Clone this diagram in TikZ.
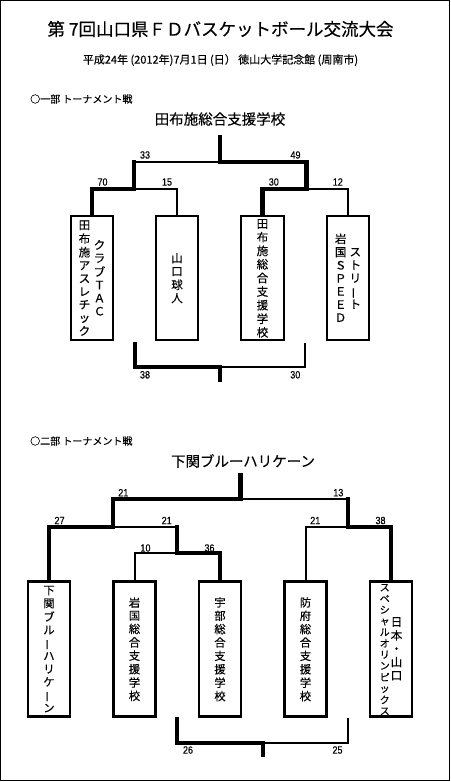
\documentclass[tikz,border=0pt]{standalone}
\usepackage{fontspec}
\usepackage{graphicx}
\newfontfamily\jp[FakeBold=0.3]{Noto Sans CJK JP}
\newfontfamily\num[FakeStretch=0.86,FakeBold=0.4]{Liberation Sans}
\newcommand\vc[1]{\raisebox{-1.7pt}[\height][\depth]{\begin{tabular}{@{}c@{}}#1\end{tabular}}}
\newcommand\vb{\makebox[1em]{\smash{\rotatebox[origin=c]{90}{ー}}}}
\tikzset{
  thk/.style={line width=4.3pt, line cap=rect},
  thn/.style={line width=2pt, line cap=rect},
  teamA/.style={draw, line width=2.3pt, minimum width=42.5pt, minimum height=124.6pt, inner sep=0pt, font=\jp\fontsize{11.5}{13.1}\selectfont},
  teamB/.style={draw, line width=2.3pt, minimum width=42pt, minimum height=135pt, inner sep=0pt, font=\jp\fontsize{11.3}{13}\selectfont},
  score/.style={font=\num\fontsize{10.5}{12}\selectfont, inner sep=0pt},
  lbl/.style={font=\jp\fontsize{10}{12}\selectfont, inner sep=0pt},
  champ/.style={font=\jp\fontsize{14.5}{16}\selectfont, inner sep=0pt},
}
\begin{document}
\begin{tikzpicture}[x=1pt,y=-1pt]
\useasboundingbox (0,0) rectangle (450,782);
\draw[line width=1.4pt] (0.7,0.7) rectangle (449.3,780.3);

% headings
\node[font=\jp\fontsize{17.5}{20}\selectfont, inner sep=0pt] (title) at (220.5,29) {第 7回山口県ＦＤバスケットボール交流大会};
\node[font=\jp\fontsize{11}{13}\selectfont, inner sep=0pt] (date) at (220.5,60) {平成24年 (2012年)7月1日 (日） 徳山大学記念館 (周南市)};
\node[lbl, anchor=west] (sec1) at (30,99) {○一部 トーナメント戦};
\node[champ] (champ1) at (220,119) {田布施総合支援学校};

% ---- tournament 1 ----
\node[teamA] (b1) at (92,278) {\vc{田\\布\\施\\ア\\ス\\レ\\チ\\ッ\\ク}\hspace{3.5pt}\vc{ク\\ラ\\ブ\\Ｔ\\Ａ\\Ｃ}};
\node[teamA] (b2) at (177,278) {\vc{山\\口\\球\\人}};
\node[teamA] (b3) at (262.5,278) {\vc{田\\布\\施\\総\\合\\支\\援\\学\\校}};
\node[teamA] (b4) at (348,278) {\vc{岩\\国\\Ｓ\\Ｐ\\Ｅ\\Ｅ\\Ｄ}\hspace{3.2pt}\vc{ス\\ト\\リ\\\vb\\ト}};

\coordinate (f1) at (220,162);
\coordinate (t1) at (220,137);
\coordinate (j1) at (134.3,189);
\coordinate (j2) at (306.5,189);

\draw[thk] (b1.north) |- (j1) -- (j1 |- f1);
\draw[thn] (j1) -| (b2.north);
\draw[thn] (j1 |- f1) -- (f1);
\draw[thk] (b3.north) |- (j2) -- (j2 |- f1) -- (f1) -- (t1);
\draw[thn] (j2) -| (b4.north);

\node[score] (s1a) at (145,155) {33};
\node[score] (s1b) at (295.5,155) {49};
\node[score] (s1c) at (102.5,182) {70};
\node[score] (s1d) at (167,182) {15};
\node[score] (s1e) at (273.8,182) {30};
\node[score] (s1f) at (337.8,182) {12};

\coordinate (c1) at (135,343.7);
\coordinate (c2) at (305.2,343.7);
\coordinate (m1) at (220,366.7);
\coordinate (mb1) at (220,379.7);
\draw[thk] (c1) |- (m1) -- (mb1);
\draw[thn] (m1) -| (c2);
\node[score] (s1g) at (145,374.8) {38};
\node[score] (s1h) at (295.3,374.8) {30};

% ---- tournament 2 ----
\node[lbl, anchor=west] (sec2) at (30,441) {○二部 トーナメント戦};
\node[champ] (champ2) at (243,461) {下関ブルーハリケーン};

\node[teamB] (A) at (49,649) {\vc{下\\関\\ブ\\ル\\\vb\\ハ\\リ\\ケ\\\vb\\ン}};
\node[teamB] (B) at (134.5,649) {\vc{岩\\国\\総\\合\\支\\援\\学\\校}};
\node[teamB] (C) at (220,649) {\vc{宇\\部\\総\\合\\支\\援\\学\\校}};
\node[teamB] (D) at (305.5,649) {\vc{防\\府\\総\\合\\支\\援\\学\\校}};
\node[teamB] (E) at (391,649) {{\fontsize{10}{11.2}\selectfont\vc{ス\\ペ\\シ\\ャ\\ル\\オ\\リ\\ン\\ピ\\ッ\\ク\\ス}}\hspace{1pt}{\fontsize{11.5}{13.3}\selectfont\vc{日\\本\\・\\山\\口}}};

\coordinate (g) at (240.5,499.3);
\coordinate (t2) at (240.5,475.3);
\coordinate (k2) at (113,527.3);
\coordinate (k3) at (348.3,527.3);
\coordinate (k1) at (177,553.3);

\draw[thk] (A.north) |- (k2) -- (k2 |- g) -- (g) -- (t2);
\draw[thn] (k2) -- (k1 |- k2);
\draw[thk] (C.north) |- (k1) -- (k1 |- k2);
\draw[thn] (k1) -| (B.north);
\draw[thn] (g) -- (k3 |- g);
\draw[thk] (E.north) |- (k3) -- (k3 |- g);
\draw[thn] (k3) -| (D.north);

\node[score] (s2a) at (123.3,492.7) {21};
\node[score] (s2b) at (338.3,492.7) {13};
\node[score] (s2c) at (59.5,520.5) {27};
\node[score] (s2d) at (166.7,520.5) {21};
\node[score] (s2e) at (315.3,520.5) {21};
\node[score] (s2f) at (380.5,520.5) {38};
\node[score] (s2g) at (145.5,548) {10};
\node[score] (s2h) at (209.5,548) {36};

\coordinate (c3) at (177,718.7);
\coordinate (c4) at (347.8,718.7);
\coordinate (m2) at (263,742.7);
\coordinate (mb2) at (263,754.7);
\draw[thk] (c3) |- (m2) -- (mb2);
\draw[thn] (m2) -| (c4);
\node[score] (s2i) at (188,750) {26};
\node[score] (s2j) at (337.5,750) {25};
\end{tikzpicture}
\end{document}
